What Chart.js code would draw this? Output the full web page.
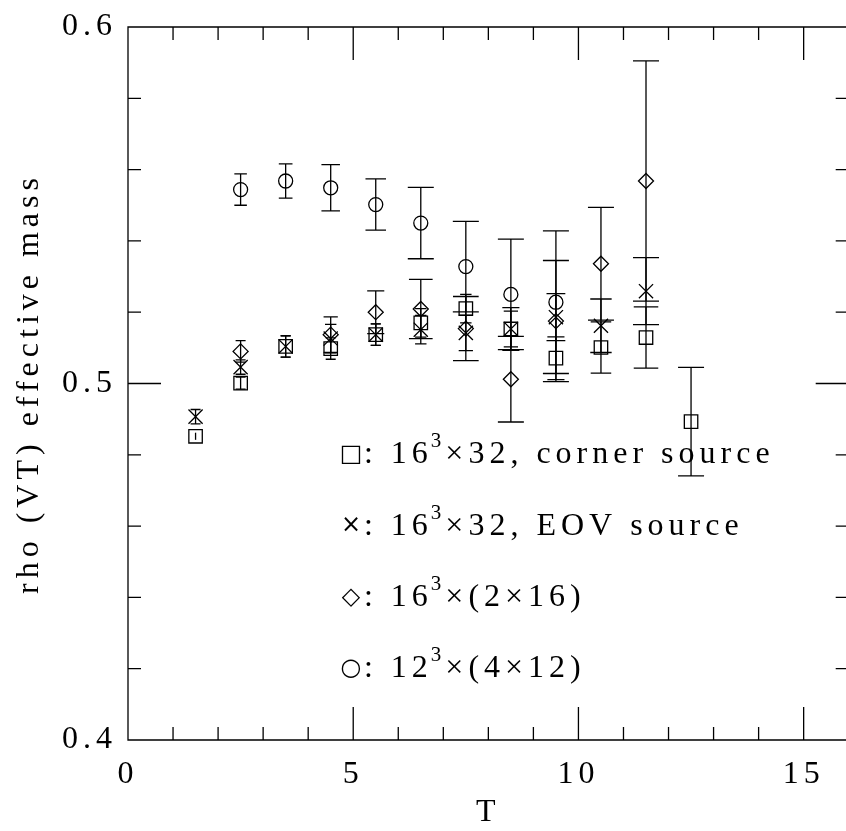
<!DOCTYPE html>
<html>
<head>
<meta charset="utf-8">
<script src="https://cdn.jsdelivr.net/npm/chart.js@4.4.1/dist/chart.umd.min.js"></script>
<style>
  html, body { margin: 0; padding: 0; overflow: hidden; background: #fff; }
  #wrap { width: 860px; height: 831px; }
</style>
</head>
<body>
<div id="wrap"><canvas id="chart" width="860" height="831"></canvas></div>
<script>
// DATA
const tValues = [1.5, 2.5, 3.5, 4.5, 5.5, 6.5, 7.5, 8.5, 9.5, 10.5, 11.5, 12.5];

// 16^3x32, corner source (squares)
const cornerMass = [0.4852, 0.5001, 0.5104, 0.5098, 0.5137, 0.5170, 0.5210, 0.5153, 0.5071, 0.5101, 0.5129, 0.4893];
const cornerErr  = [0.0010, 0.0017, 0.0030, 0.0030, 0.0030, 0.0040, 0.0040, 0.0060, 0.0060, 0.0072, 0.0086, 0.0152];

// 16^3x32, EOV source (crosses)
const eovMass = [0.4907, 0.5046, 0.5104, 0.5126, 0.5137, 0.5151, 0.5142, 0.5153, 0.5186, 0.5162, 0.5259, null];
const eovErr  = [0.0020, 0.0020, 0.0030, 0.0040, 0.0030, 0.0040, 0.0050, 0.0050, 0.0066, 0.0075, 0.0094, null];

// 16^3x(2x16) (diamonds)
const doubleMass = [null, 0.5090, null, 0.5137, 0.5200, 0.5209, 0.5154, 0.5012, 0.5175, 0.5336, 0.5568, null];
const doubleErr  = [null, 0.0030, null, 0.0050, 0.0060, 0.0083, 0.0090, 0.0120, 0.0170, 0.0158, 0.0337, null];

// 12^3x(4x12) (circles)
const smallMass = [null, 0.5544, 0.5568, 0.5549, 0.5502, 0.5450, 0.5328, 0.5250, 0.5228, null, null, null];
const smallErr  = [null, 0.0044, 0.0048, 0.0065, 0.0072, 0.0100, 0.0127, 0.0155, 0.0200, null, null, null];

// legend text: [before superscript, superscript, after]
const seriesLabels = [
  ["16", "3", "\u00d732, corner source"],
  ["16", "3", "\u00d732, EOV source"],
  ["16", "3", "\u00d7(2\u00d716)"],
  ["12", "3", "\u00d7(4\u00d712)"],
];
const legendSymbols = ["\u25a1", "\u00d7", "\u25c7", "\u25cb"];

const xMin = 0, xMax = 16;
const yMin = 0.4, yMax = 0.6;

const FONT = "'Liberation Serif', 'DejaVu Serif', serif";

function points(mass, err) {
  const out = [];
  tValues.forEach((t, i) => {
    if (mass[i] !== null) out.push({ x: t, y: mass[i], err: err[i] });
  });
  return out;
}

function series(mass, err, style, radius) {
  return {
    data: points(mass, err),
    pointStyle: style,
    pointRadius: radius,
    pointHoverRadius: radius,
    pointBorderWidth: 1.3,
    pointBorderColor: "#000",
    pointBackgroundColor: "rgba(0,0,0,0)",
    showLine: false,
  };
}

// vertical error bars with caps
const errorBars = {
  id: "errorBars",
  afterDatasetsDraw(chart) {
    const ctx = chart.ctx, xs = chart.scales.x, ys = chart.scales.y;
    ctx.save();
    ctx.strokeStyle = "#000";
    ctx.lineWidth = 1.3;
    chart.data.datasets.forEach(ds => {
      ds.data.forEach(p => {
        const px = xs.getPixelForValue(p.x);
        const top = ys.getPixelForValue(p.y + p.err);
        const bot = ys.getPixelForValue(p.y - p.err);
        const len = (bot - top) / 2;
        ctx.beginPath();
        ctx.moveTo(px, top);
        ctx.lineTo(px, bot);
        if (len > 6) {
          const half = Math.min(13, Math.max(5, 0.4 * len));
          ctx.moveTo(px - half, top); ctx.lineTo(px + half, top);
          ctx.moveTo(px - half, bot); ctx.lineTo(px + half, bot);
        }
        ctx.stroke();
      });
    });
    ctx.restore();
  },
};

// full frame with inward ticks on all four sides, plus the text legend
const frame = {
  id: "frame",
  beforeDraw(chart) {
    chart.ctx.letterSpacing = "5px";
  },
  afterDraw(chart) {
    const ctx = chart.ctx, xs = chart.scales.x, ys = chart.scales.y;
    const { left, right, top, bottom } = chart.chartArea;
    ctx.save();
    ctx.strokeStyle = "#000";
    ctx.lineWidth = 1.3;
    ctx.beginPath();
    ctx.rect(left, top, right - left, bottom - top);
    for (let v = xMin + 1; v < xMax; v++) {
      const px = xs.getPixelForValue(v);
      const l = v % 5 === 0 ? 33 : 13;
      ctx.moveTo(px, bottom); ctx.lineTo(px, bottom - l);
      ctx.moveTo(px, top); ctx.lineTo(px, top + l);
    }
    for (let k = 1; k < 10; k++) {
      const py = ys.getPixelForValue(yMin + k * 0.02);
      const l = k === 5 ? 33 : 13;
      ctx.moveTo(left, py); ctx.lineTo(left + l, py);
      ctx.moveTo(right, py); ctx.lineTo(right - l, py);
    }
    ctx.stroke();

    // legend
    const lx = xs.getPixelForValue(4.95);
    ctx.fillStyle = "#000";
    ctx.textBaseline = "middle";
    seriesLabels.forEach((parts, i) => {
      const py = ys.getPixelForValue(0.4800 - i * 0.0200);
      ctx.letterSpacing = "0px";
      ctx.textAlign = "center";
      ctx.font = "24px 'DejaVu Sans'";
      ctx.fillText(legendSymbols[i], lx, py);

      ctx.textAlign = "left";
      ctx.letterSpacing = "5px";
      ctx.font = "32px " + FONT;
      let x = lx + 13;
      const head = ": " + parts[0];
      ctx.fillText(head, x, py);
      x += ctx.measureText(head).width;
      ctx.font = "21px " + FONT;
      ctx.letterSpacing = "3px";
      ctx.fillText(parts[1], x - 2, py - 13);
      x += ctx.measureText(parts[1]).width;
      ctx.font = "32px " + FONT;
      ctx.letterSpacing = "5px";
      ctx.fillText(parts[2], x - 1, py);
    });
    ctx.restore();
  },
};

const datasets = [
  series(cornerMass, cornerErr, "rect", 9.5),
  series(eovMass, eovErr, "crossRot", 10),
  series(doubleMass, doubleErr, "rectRot", 7.5),
  series(smallMass, smallErr, "circle", 7),
];

const config = {
  type: "scatter",
  data: { datasets },
  options: {
    responsive: false,
    animation: false,
    devicePixelRatio: 1,
    layout: { padding: { top: 17, right: 7, left: 0, bottom: 0 } },
    scales: {
      x: {
        type: "linear",
        min: xMin,
        max: xMax,
        grid: { display: false, drawTicks: false },
        border: { display: false },
        ticks: {
          stepSize: 5,
          includeBounds: false,
          maxRotation: 0,
          padding: 19,
          color: "#000",
          font: { family: FONT, size: 32, lineHeight: 1 },
        },
        title: {
          display: true,
          text: "T",
          color: "#000",
          padding: { top: 0, bottom: 2 },
          font: { family: FONT, size: 32, lineHeight: 1 },
        },
        afterFit(scale) { scale.height = 91; },
      },
      y: {
        type: "linear",
        min: yMin,
        max: yMax,
        grid: { display: false, drawTicks: false },
        border: { display: false },
        ticks: {
          stepSize: 0.1,
          padding: 11,
          color: "#000",
          font: { family: FONT, size: 32, lineHeight: 1 },
          callback: v => v.toFixed(1),
        },
        title: {
          display: true,
          text: "rho (VT) effective mass",
          color: "#000",
          padding: { top: 14, bottom: 0 },
          font: { family: FONT, size: 32, lineHeight: 1 },
        },
        afterFit(scale) { scale.width = 128; },
      },
    },
    plugins: {
      legend: { display: false },
      tooltip: { enabled: false },
    },
  },
  plugins: [errorBars, frame],
};

// RENDER
const chart = new Chart(document.getElementById("chart"), config);
</script>
</body>
</html>
